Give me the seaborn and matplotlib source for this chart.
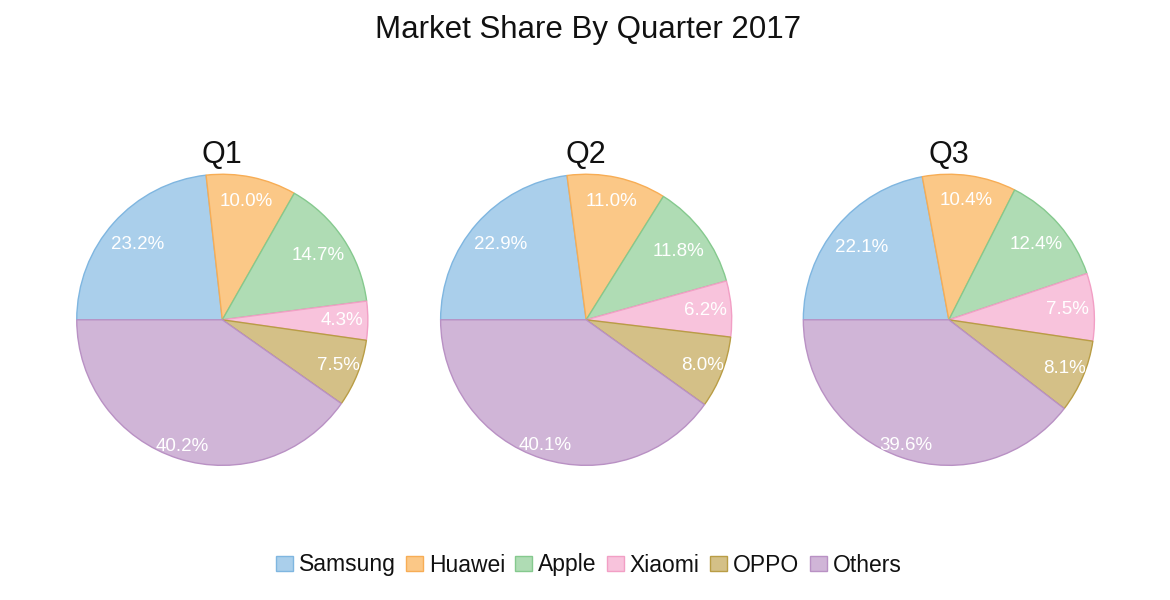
import numpy as np
import matplotlib
matplotlib.use("Agg")
import matplotlib.pyplot as plt
import seaborn as sns
from matplotlib.patches import Patch

sns.set_theme(style="white")
plt.rcParams['font.family'] = ['Liberation Sans', 'DejaVu Sans']

# ---------------- DATA ----------------
brands = ["Samsung", "Huawei", "Apple", "Xiaomi", "OPPO", "Others"]
quarters = ["Q1", "Q2", "Q3"]
q1_share = [23.2, 10.0, 14.7, 4.3, 7.5, 40.2]
q2_share = [22.9, 11.0, 11.8, 6.2, 8.0, 40.1]
q3_share = [22.1, 10.4, 12.4, 7.5, 8.1, 39.6]

# ---------------- STYLE ----------------
fill_colors = ["#aacfeb", "#fbc887", "#afdcb4", "#f8c3dc", "#d4c087", "#d0b5d7"]
edge_colors = ["#7fb6e0", "#f7ad55", "#85c98e", "#f29fc5", "#b99d45", "#b991c4"]
label_radius = [0.78, 0.83, 0.79, 0.82, 0.86, 0.91]
centers_x = [0.19, 0.501, 0.811]

fig = plt.figure(figsize=(11.7, 6), dpi=100)
fig.text(0.503, 1 - 38 / 600, "Market Share By Quarter 2017", ha="center",
         va="baseline", fontsize=22.5, color="#111111")

w, h = 0.2513, 0.49
for cx, name, share in zip(centers_x, quarters, [q1_share, q2_share, q3_share]):
    ax = fig.add_axes([cx - w / 2, 0.467 - h / 2, w, h])
    wedges, _, autotexts = ax.pie(
        share, colors=fill_colors, startangle=180, counterclock=False,
        autopct=lambda p: f"{p:.1f}%",
        wedgeprops=dict(linewidth=1.0),
        textprops=dict(color="white", fontsize=13.5),
    )
    for wedge, ec, txt, r in zip(wedges, edge_colors, autotexts, label_radius):
        wedge.set_edgecolor(ec)
        theta = np.deg2rad((wedge.theta1 + wedge.theta2) / 2)
        txt.set_position((r * np.cos(theta), r * np.sin(theta)))
    ax.set_xlim(-1.01, 1.01)
    ax.set_ylim(-1.01, 1.01)
    ax.set_aspect("equal")
    ax.text(0, 1.075, name, ha="center", va="baseline", fontsize=22, color="#111111")

handles = [Patch(facecolor=fc, edgecolor=ec, linewidth=1.0)
           for fc, ec in zip(fill_colors, edge_colors)]
fig.legend(handles, brands, loc="center", bbox_to_anchor=(0.503, 1 - 565 / 600),
           ncol=6, frameon=False, fontsize=16.5, handlelength=0.74, handleheight=0.65,
           handletextpad=0.26, columnspacing=0.45, labelcolor="#111111")

fig.savefig("out.png", dpi=100, facecolor="white")
